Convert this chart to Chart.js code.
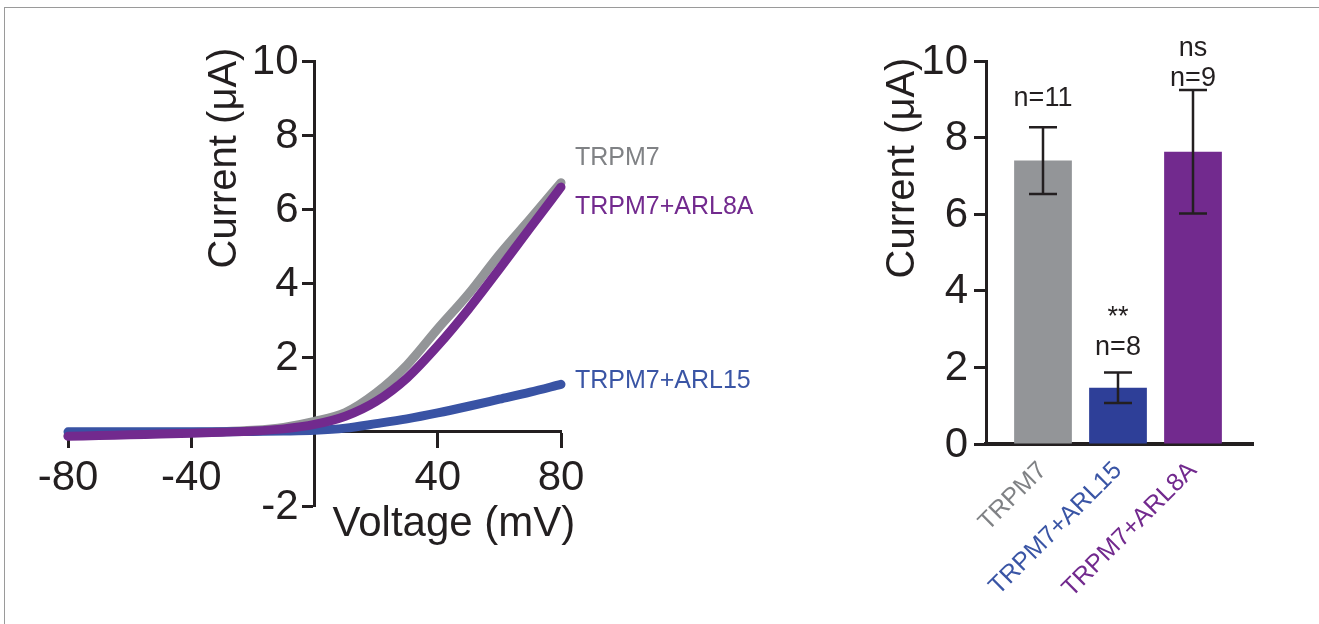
<!DOCTYPE html>
<html>
<head>
<meta charset="utf-8">
<script src="https://cdn.jsdelivr.net/npm/chart.js@4.4.0/dist/chart.umd.min.js"></script>
<style>
  html, body { margin: 0; padding: 0; background: #fff; }
  body { width: 1319px; height: 624px; position: relative; overflow: hidden; }
  #frame { position: absolute; left: 4px; top: 7px; width: 1400px; height: 700px;
           border-left: 1.5px solid #9a9a9a; border-top: 1.5px solid #9a9a9a; }
  #iv { position: absolute; left: 0; top: 0; }
  #bars { position: absolute; left: 800px; top: 0; }
</style>
</head>
<body>
<div id="frame"></div>
<canvas id="iv" width="800" height="624"></canvas>
<canvas id="bars" width="519" height="624"></canvas>
<script>
// I-V curves (left panel)
const voltage = [-80, -70, -60, -50, -40, -30, -20, -10, 0, 10, 20, 30, 40, 50, 60, 70, 80];
const iTRPM7 = [-0.10, -0.08, -0.06, -0.04, -0.02, 0.00, 0.04, 0.12, 0.28, 0.52, 1.05, 1.80, 2.78, 3.72, 4.78, 5.74, 6.72];
const iARL8A = [-0.12, -0.10, -0.08, -0.06, -0.04, -0.01, 0.02, 0.08, 0.20, 0.42, 0.82, 1.45, 2.32, 3.31, 4.39, 5.50, 6.60];
const iARL15 = [0.00, 0.00, 0.00, 0.00, 0.00, 0.00, 0.01, 0.02, 0.04, 0.10, 0.22, 0.35, 0.51, 0.69, 0.88, 1.07, 1.28];
const ivTicksX = [-80, -40, 0, 40, 80];
const ivTicksY = [-2, 0, 2, 4, 6, 8, 10];

// summary bars (right panel)
const groups = ['TRPM7', 'TRPM7+ARL15', 'TRPM7+ARL8A'];
const meanCurrent = [7.40, 1.47, 7.63];
const semCurrent = [0.87, 0.40, 1.61];
const nCells = [11, 8, 9];
const signif = ['', '**', 'ns'];
const barTicksY = [0, 2, 4, 6, 8, 10];

// where the little texts sit (in data units)
const ivLabelAt = [7.37, 6.05, 1.36];
const nLabelAt = [9.03, 2.51, 9.53];
const sigLabelAt = [null, 3.30, 10.33];

const ink = '#231f20';
const FONT = '"Liberation Sans", Arial, Helvetica, sans-serif';
const grey = '#939598', blue = '#3953a4', purple = '#722a8e';
const labelColors = ['#808285', '#3a55a5', '#722a8e'];

function px(size) { return size + 'px ' + FONT; }

// value labels left of a vertical axis (Chart.js puts them on the line for object positions)
function yLabels(ctx, y, axisX, values, gap) {
  ctx.save();
  ctx.fillStyle = ink;
  ctx.font = px(42);
  ctx.textAlign = 'right';
  ctx.textBaseline = 'middle';
  values.forEach(v => {
    if (v === 0 && values[0] < 0) return;
    ctx.fillText(String(v), axisX - gap, y.getPixelForValue(v) + 1);
  });
  ctx.restore();
}

const ivText = {
  id: 'ivText',
  afterDraw(chart) {
    const { ctx, scales: { x, y } } = chart;
    const x0 = x.getPixelForValue(0);
    yLabels(ctx, y, x0, ivTicksY, 16);
    ctx.save();
    ctx.fillStyle = ink;
    ctx.font = px(42);
    ctx.textAlign = 'left';
    ctx.textBaseline = 'alphabetic';
    ctx.fillText('Voltage (mV)', x0 + 18, y.getPixelForValue(-2) + 30);

    ctx.save();
    ctx.font = px(40);
    ctx.translate(x0 - 90, chart.chartArea.top + 97);
    ctx.rotate(-Math.PI / 2);
    ctx.textAlign = 'center';
    ctx.textBaseline = 'middle';
    ctx.fillText('Current (\u03bcA)', 0, 0);
    ctx.restore();

    ctx.font = px(25);
    ctx.textBaseline = 'middle';
    const names = ['TRPM7', 'TRPM7+ARL8A', 'TRPM7+ARL15'];
    const cols = [labelColors[0], labelColors[2], labelColors[1]];
    names.forEach((n, i) => {
      ctx.fillStyle = cols[i];
      ctx.fillText(n, x.getPixelForValue(80) + 14, y.getPixelForValue(ivLabelAt[i]));
    });
    ctx.restore();
  }
};

const lineDs = (label, data, color) => ({
  label,
  data: voltage.map((v, i) => ({ x: v, y: data[i] })),
  borderColor: color,
  borderWidth: 9,
  borderCapStyle: 'round',
  borderJoinStyle: 'round',
  pointRadius: 0,
  cubicInterpolationMode: 'monotone',
  clip: false
});

new Chart(document.getElementById('iv'), {
  type: 'line',
  data: {
    datasets: [
      lineDs('TRPM7+ARL8A', iARL8A, purple),
      lineDs('TRPM7+ARL15', iARL15, blue),
      lineDs('TRPM7', iTRPM7, grey)
    ]
  },
  options: {
    responsive: false,
    animation: false,
    layout: { padding: { left: 68, right: 239, top: 61, bottom: 118 } },
    plugins: { legend: { display: false }, tooltip: { enabled: false } },
    scales: {
      x: {
        type: 'linear',
        position: { y: 0 },
        min: -80, max: 80,
        afterBuildTicks: s => { s.ticks = ivTicksX.map(v => ({ value: v })); },
        grid: { drawOnChartArea: false, tickLength: 15, tickWidth: 3, tickColor: ink },
        border: { color: ink, width: 3 },
        ticks: { color: ink, font: { size: 42, family: FONT }, padding: 6,
                 maxRotation: 0, callback: v => v === 0 ? '' : v }
      },
      y: {
        type: 'linear',
        position: { x: 0 },
        min: -2, max: 10,
        afterBuildTicks: s => { s.ticks = ivTicksY.map(v => ({ value: v })); },
        grid: { drawOnChartArea: false, tickLength: 11, tickWidth: 3,
                tickColor: c => c.tick && c.tick.value === 0 ? 'rgba(0,0,0,0)' : ink },
        border: { color: ink, width: 3 },
        ticks: { display: false }
      }
    }
  },
  plugins: [ivText]
});

const barExtras = {
  id: 'barExtras',
  afterDatasetsDraw(chart) {
    const { ctx, scales: { x, y } } = chart;
    ctx.save();
    ctx.strokeStyle = ink;
    ctx.lineWidth = 2.5;
    groups.forEach((g, i) => {
      const cx = x.getPixelForValue(i + 1);
      const top = y.getPixelForValue(meanCurrent[i] + semCurrent[i]);
      const bot = y.getPixelForValue(meanCurrent[i] - semCurrent[i]);
      ctx.beginPath();
      ctx.moveTo(cx, top); ctx.lineTo(cx, bot);
      ctx.moveTo(cx - 14, top); ctx.lineTo(cx + 14, top);
      ctx.moveTo(cx - 14, bot); ctx.lineTo(cx + 14, bot);
      ctx.stroke();
    });

    ctx.fillStyle = ink;
    ctx.textAlign = 'center';
    ctx.textBaseline = 'middle';
    ctx.font = px(27);
    groups.forEach((g, i) => {
      const cx = x.getPixelForValue(i + 1);
      ctx.fillText('n=' + nCells[i], cx, y.getPixelForValue(nLabelAt[i]));
      if (signif[i]) ctx.fillText(signif[i], cx, y.getPixelForValue(sigLabelAt[i]));
    });
    ctx.restore();
  },
  afterDraw(chart) {
    const { ctx, scales: { x, y } } = chart;
    const axisX = x.getPixelForValue(x.min);
    yLabels(ctx, y, axisX, barTicksY, 18);
    ctx.save();
    ctx.fillStyle = ink;
    ctx.font = px(40);
    ctx.textAlign = 'center';
    ctx.textBaseline = 'middle';
    ctx.translate(axisX - 83, chart.chartArea.top + 107);
    ctx.rotate(-Math.PI / 2);
    ctx.fillText('Current (\u03bcA)', 0, 0);
    ctx.restore();
  }
};

const xMin = 0.24, xMax = 3.8;

new Chart(document.getElementById('bars'), {
  type: 'bar',
  data: {
    datasets: [{
      data: groups.map((g, i) => ({ x: i + 1, y: meanCurrent[i] })),
      backgroundColor: ['#939598', '#2e3f98', '#722a8e'],
      borderWidth: 0,
      barPercentage: 0.77,
      categoryPercentage: 1
    }]
  },
  options: {
    responsive: false,
    animation: false,
    layout: { padding: { left: 186, right: 66, top: 61, bottom: 180 } },
    plugins: { legend: { display: false }, tooltip: { enabled: false } },
    scales: {
      x: {
        type: 'linear',
        offset: false,
        position: { y: 0 },
        min: xMin, max: xMax,
        afterBuildTicks: s => { s.ticks = groups.map((g, i) => ({ value: i + 1 })); },
        grid: { display: false, drawTicks: false },
        border: { color: ink, width: 4 },
        ticks: { font: { size: 25, family: FONT }, padding: 12,
                 minRotation: 45, maxRotation: 45,
                 color: c => labelColors[c.index],
                 callback: (v, i) => groups[i] }
      },
      y: {
        type: 'linear',
        position: { x: xMin },
        min: 0, max: 10,
        afterBuildTicks: s => { s.ticks = barTicksY.map(v => ({ value: v })); },
        ticks: { display: false },
        grid: { drawOnChartArea: false, tickLength: 11, tickWidth: 3, tickColor: ink },
        border: { color: ink, width: 3 }
      }
    }
  },
  plugins: [barExtras]
});
</script>
</body>
</html>
